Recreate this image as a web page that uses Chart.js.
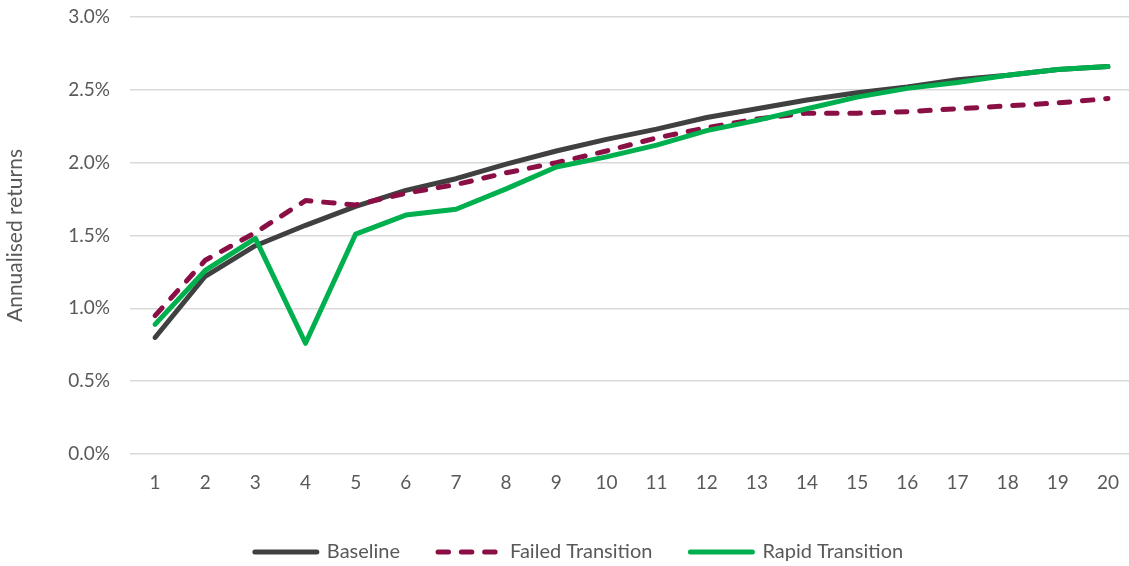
<!DOCTYPE html>
<html>
<head>
<meta charset="utf-8">
<script src="https://cdn.jsdelivr.net/npm/chart.js@4.4.1/dist/chart.umd.min.js"></script>
<style>
  html, body { margin: 0; padding: 0; background: #ffffff; overflow: hidden; }
  #wrap { width: 1129px; height: 566px; position: relative; overflow: hidden; }
</style>
</head>
<body>
<div id="wrap"><canvas id="chart" width="1133" height="566"></canvas></div>
<script>
// Years of the horizon
const years = ['1','2','3','4','5','6','7','8','9','10','11','12','13','14','15','16','17','18','19','20'];

// Annualised returns (%) per scenario
const baseline = [0.80, 1.22, 1.43, 1.57, 1.70, 1.81, 1.89, 1.99, 2.08, 2.16, 2.23, 2.31, 2.37, 2.43, 2.48, 2.52, 2.57, 2.60, 2.64, 2.66];
const failedTransition = [0.95, 1.33, 1.52, 1.74, 1.71, 1.79, 1.85, 1.93, 2.00, 2.08, 2.17, 2.24, 2.30, 2.34, 2.34, 2.35, 2.37, 2.39, 2.41, 2.44];
const rapidTransition = [0.89, 1.26, 1.48, 0.76, 1.51, 1.64, 1.68, 1.82, 1.97, 2.04, 2.12, 2.22, 2.29, 2.37, 2.45, 2.51, 2.55, 2.60, 2.64, 2.66];

const seriesNames = ['Baseline', 'Failed Transition', 'Rapid Transition'];
const yTicks = [0, 0.5, 1.0, 1.5, 2.0, 2.5, 3.0];

const textGrey = '#595959';
const uiFont = 'Lato, "Open Sans", sans-serif';
const lineW = 5;

new Chart(document.getElementById('chart'), {
  type: 'line',
  data: {
    labels: years,
    datasets: [
      {
        label: seriesNames[0],
        data: baseline,
        borderColor: '#404040',
        backgroundColor: '#404040',
        borderWidth: lineW,
        order: 3
      },
      {
        label: seriesNames[1],
        data: failedTransition,
        borderColor: '#8a0f45',
        backgroundColor: '#8a0f45',
        borderWidth: lineW,
        borderDash: [10.5, 12.8],
        order: 2
      },
      {
        label: seriesNames[2],
        data: rapidTransition,
        borderColor: '#00b04f',
        backgroundColor: '#00b04f',
        borderWidth: lineW,
        order: 1
      }
    ]
  },
  options: {
    responsive: false,
    animation: false,
    devicePixelRatio: 1,
    layout: { padding: { top: 17, left: 25, right: 0, bottom: 0 } },
    elements: {
      line: { tension: 0, borderCapStyle: 'round', borderJoinStyle: 'round' },
      point: { radius: 0, hoverRadius: 0 }
    },
    plugins: {
      tooltip: { enabled: false },
      legend: {
        position: 'bottom',
        maxHeight: 62,
        labels: {
          usePointStyle: true,
          pointStyle: 'line',
          pointStyleWidth: 62,
          padding: 38,
          color: textGrey,
          font: { family: uiFont, size: 20 },
          sort: (a, b) => a.datasetIndex - b.datasetIndex,
          generateLabels: (chart) => {
            const items = Chart.defaults.plugins.legend.labels.generateLabels(chart);
            return items.map((item) => {
              const ds = chart.data.datasets[item.datasetIndex];
              return Object.assign(item, {
                strokeStyle: ds.borderColor,
                lineWidth: ds.borderWidth,
                lineDash: ds.borderDash || [],
                lineCap: 'round'
              });
            });
          }
        }
      }
    },
    scales: {
      x: {
        offset: true,
        grid: { display: false },
        border: { display: false },
        ticks: {
          color: textGrey,
          padding: 9,
          maxRotation: 0,
          autoSkip: false,
          font: { family: uiFont, size: 19 }
        },
        afterFit: (scale) => { scale.height = 50; }
      },
      y: {
        min: 0,
        max: 3,
        afterBuildTicks: (scale) => { scale.ticks = yTicks.map(v => ({ value: v })); },
        grid: { color: '#d9d9d9', lineWidth: 1.5, drawTicks: false },
        border: { display: false },
        ticks: {
          color: textGrey,
          padding: 20,
          font: { family: uiFont, size: 19 },
          callback: (v) => Number(v).toFixed(1) + '%'
        },
        title: {
          display: true,
          text: 'Annualised returns',
          color: textGrey,
          font: { family: uiFont, size: 21 },
          padding: { top: -22, bottom: 0 }
        },
        afterFit: (scale) => {
          scale.width = 105;
          scale.paddingTop = 0;
          scale.paddingBottom = 0;
        }
      }
    }
  }
});
</script>
</body>
</html>
